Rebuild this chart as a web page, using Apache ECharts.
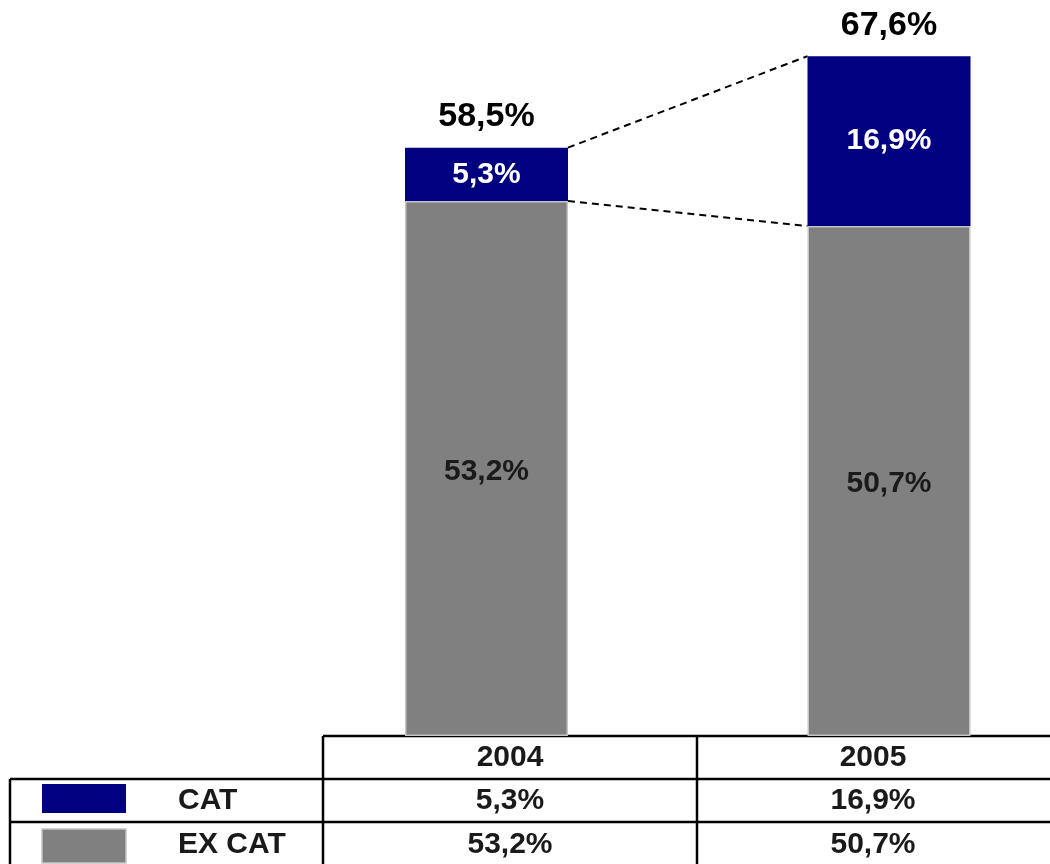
<!DOCTYPE html>
<html>
<head>
<meta charset="utf-8">
<script src="https://cdn.jsdelivr.net/npm/echarts@6/dist/echarts.min.js"></script>
<style>
  html, body { margin: 0; padding: 0; background: #fff; }
  #chart { width: 1050px; height: 864px; }
</style>
</head>
<body>
<div id="chart"></div>
<script>
const years = ['2004', '2005']
const catValues = [5.3, 16.9]
const exCatValues = [53.2, 50.7]
const totalValues = [58.5, 67.6]
const seriesNames = ['CAT', 'EX CAT']

const FONT = '"Liberation Sans", Arial, sans-serif'
const BAR_W = 163

function fmt (v) {
  return v.toFixed(1).replace('.', ',') + '%'
}

function genOption () {
  return {
    animation: false,
    grid: {
      left: 486.5,
      right: 161,
      top: 32,
      bottom: 128,
      containLabel: false
    },
    xAxis: {
      type: 'category',
      data: years,
      boundaryGap: false,
      axisLine: { show: false },
      axisTick: { show: false },
      axisLabel: { show: false }
    },
    yAxis: {
      type: 'value',
      min: 0,
      max: 70,
      show: false,
      splitLine: { show: false }
    },
    series: [
      {
        name: seriesNames[1],
        type: 'bar',
        stack: 'a',
        clip: false,
        barWidth: BAR_W,
        data: exCatValues,
        itemStyle: { color: '#808080', borderColor: '#c4c4c4', borderWidth: 1.5 },
        label: {
          show: true,
          position: 'inside',
          offset: [0, 3],
          color: '#1a1a1a',
          fontFamily: FONT,
          fontWeight: 'bold',
          fontSize: 30,
          formatter: p => fmt(p.value)
        }
      },
      {
        name: seriesNames[0],
        type: 'bar',
        stack: 'a',
        clip: false,
        barWidth: BAR_W,
        data: catValues,
        itemStyle: { color: '#000080' },
        label: {
          show: true,
          position: 'inside',
          color: '#fff',
          fontFamily: FONT,
          fontWeight: 'bold',
          fontSize: 30,
          formatter: p => fmt(p.value)
        }
      },
      {
        // invisible points carrying the stack totals
        name: 'total',
        type: 'scatter',
        symbolSize: 0,
        clip: false,
        data: totalValues,
        itemStyle: { opacity: 1 },
        label: {
          show: true,
          position: 'top',
          distance: 14,
          color: '#000',
          opacity: 1,
          fontFamily: FONT,
          fontWeight: 'bold',
          fontSize: 34,
          formatter: p => fmt(p.value)
        }
      }
    ]
  }
}

function tableGraphic () {
  const line = (x1, y1, x2, y2) => ({
    type: 'line',
    shape: { x1, y1, x2, y2 },
    style: { stroke: '#000', lineWidth: 2.5 }
  })
  const txt = (x, y, s, align) => ({
    type: 'text',
    x, y,
    style: {
      text: s,
      fill: '#1a1a1a',
      font: 'bold 30px ' + FONT,
      align: align || 'center',
      verticalAlign: 'middle'
    }
  })
  const colMid = [510, 873]
  const els = [
    line(323, 736, 1050, 736),
    line(10, 779, 1050, 779),
    line(10, 822, 1050, 822),
    line(323, 736, 323, 864),
    line(697, 736, 697, 864),
    line(10, 779, 10, 864),
    { type: 'rect', shape: { x: 42, y: 784, width: 84, height: 29 }, style: { fill: '#000080' } },
    { type: 'rect', shape: { x: 42, y: 829, width: 84, height: 34 }, style: { fill: '#808080', stroke: '#c4c4c4', lineWidth: 1.5 } },
    txt(178, 801, seriesNames[0], 'left'),
    txt(178, 845, seriesNames[1], 'left')
  ]
  years.forEach((y, i) => {
    els.push(txt(colMid[i], 758, y))
    els.push(txt(colMid[i], 801, fmt(catValues[i])))
    els.push(txt(colMid[i], 845, fmt(exCatValues[i])))
  })
  return els
}

const chart = echarts.init(document.getElementById('chart'))
chart.setOption(genOption())

// dashed connectors between the two stacks
const pTop0 = chart.convertToPixel({ gridIndex: 0 }, [0, totalValues[0]])
const pTop1 = chart.convertToPixel({ gridIndex: 0 }, [1, totalValues[1]])
const pMid0 = chart.convertToPixel({ gridIndex: 0 }, [0, exCatValues[0]])
const pMid1 = chart.convertToPixel({ gridIndex: 0 }, [1, exCatValues[1]])
const dash = (a, b) => ({
  type: 'line',
  shape: { x1: a[0] + BAR_W / 2, y1: a[1], x2: b[0] - BAR_W / 2, y2: b[1] },
  style: { stroke: '#000', lineWidth: 2, lineDash: [7, 5] }
})

chart.setOption({
  graphic: [dash(pTop0, pTop1), dash(pMid0, pMid1)].concat(tableGraphic())
})
</script>
</body>
</html>
